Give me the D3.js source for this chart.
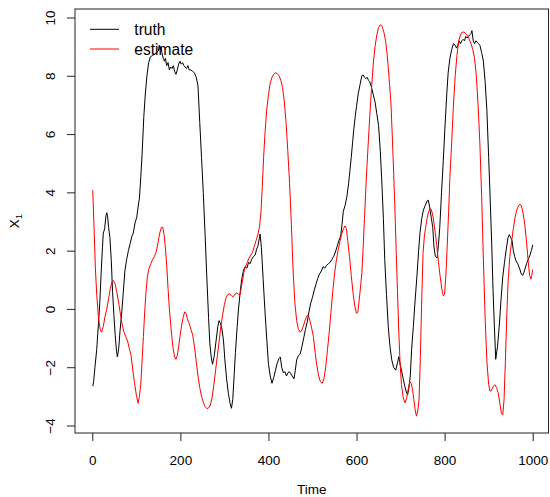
<!DOCTYPE html>
<html>
<head>
<meta charset="utf-8">
<script src="https://cdn.jsdelivr.net/npm/d3@7"></script>
<style>
  html, body { margin: 0; padding: 0; background: #fff; }
  svg { display: block; font-family: "Liberation Sans", Arial, sans-serif; }
</style>
</head>
<body>
<svg id="chart" width="550" height="497"></svg>
<script>
// Latent state X1 over time: the simulated truth and the filter's estimate.
const truthTime = [1,3,6,10,14,17,20,23,25,28,31,33,35,37,40,43,46,49,52,55,57,60,63,67,70,74,78,82,86,90,93,97,101,104,107,110,113,117,120,124,128,132,137,142,146,150,152,154,156,158,161,164,166,169,172,175,178,181,184,187,190,193,196,199,202,205,208,211,214,217,220,224,228,232,236,240,244,248,252,256,260,264,267,270,273,277,281,285,288,291,294,298,301,305,309,313,316,319,322,325,329,332,336,339,343,347,351,355,358,362,366,370,373,376,379,381,384,388,392,396,400,404,408,412,416,420,424,427,430,434,437,441,444,447,450,454,458,461,464,468,472,476,480,484,488,492,496,500,504,508,512,516,520,524,528,532,536,540,544,548,552,556,560,564,567,570,574,578,582,585,588,591,594,597,600,604,608,612,615,618,621,624,627,630,634,638,642,646,650,654,657,661,664,668,672,676,680,684,689,693,696,699,702,706,710,713,716,719,722,725,729,733,737,741,744,748,752,756,760,763,766,770,773,776,779,783,786,789,793,797,801,805,808,812,816,820,824,827,830,833,836,839,842,845,848,851,854,857,860,862,865,868,871,874,877,880,884,888,892,896,900,903,907,910,913,916,920,924,928,932,936,940,944,947,950,953,956,959,962,966,970,974,977,980,983,986,990,994,997,1000];
const truthValue = [-2.65,-2.5,-2.0,-1.4,-0.5,0.2,1.2,2.1,2.6,2.75,3.2,3.3,3.15,2.8,2.45,1.7,0.6,-0.2,-0.9,-1.45,-1.65,-1.35,-0.75,-0.1,0.5,1.3,1.7,2.0,2.25,2.5,2.6,2.95,3.15,3.5,3.8,4.5,5.3,6.6,7.3,8.0,8.45,8.65,8.7,8.75,8.8,8.85,9.05,8.9,9.0,8.8,8.6,8.5,8.6,8.35,8.45,8.2,8.3,8.25,8.35,8.15,8.05,8.2,8.4,8.5,8.4,8.45,8.35,8.3,8.25,8.35,8.2,8.2,8.15,8.1,7.95,7.65,6.4,5.2,4.0,2.6,1.1,-0.3,-1.2,-1.65,-1.9,-1.6,-1.1,-0.6,-0.4,-0.5,-0.65,-1.1,-1.75,-2.4,-2.9,-3.25,-3.41,-3.1,-2.3,-1.5,-0.6,0.0,0.6,1.0,1.3,1.45,1.4,1.6,1.55,1.7,1.8,1.85,2.05,2.15,2.4,2.57,2.1,1.0,-0.05,-1.0,-1.9,-2.3,-2.55,-2.35,-2.1,-1.85,-1.7,-1.65,-2.0,-2.2,-2.15,-2.3,-2.2,-2.15,-2.2,-2.3,-2.4,-2.1,-1.75,-1.6,-1.55,-1.3,-1.0,-0.7,-0.45,-0.1,0.2,0.4,0.65,0.85,1.05,1.2,1.3,1.45,1.4,1.5,1.55,1.6,1.7,1.8,1.95,2.15,2.35,2.5,2.9,3.35,3.55,3.85,4.3,4.75,5.2,5.7,6.2,6.6,6.95,7.4,7.7,8.0,8.03,7.95,7.9,7.95,7.85,7.8,7.6,7.35,7.1,6.7,6.3,5.4,4.5,3.1,1.7,0.5,-0.6,-1.3,-1.75,-2.0,-2.1,-1.85,-1.64,-1.9,-2.1,-2.4,-2.67,-2.85,-2.95,-2.7,-2.3,-1.4,-0.6,0.3,1.1,2.0,2.6,3.1,3.4,3.55,3.7,3.73,3.5,3.1,2.8,2.1,1.8,1.75,2.2,2.8,4.0,5.1,6.3,7.4,8.1,8.6,8.9,9.1,9.05,8.95,9.05,9.2,9.1,9.2,9.25,9.2,9.35,9.3,9.35,9.4,9.45,9.55,9.2,9.1,9.2,9.15,9.1,9.05,8.8,8.5,7.8,6.8,5.2,3.97,2.2,0.6,-0.6,-1.73,-1.3,-0.6,0.3,1.1,1.6,2.05,2.45,2.55,2.45,2.35,2.0,1.8,1.65,1.55,1.4,1.2,1.15,1.25,1.4,1.55,1.7,1.85,2.0,2.2];

const estTime = [1,4,7,10,14,18,21,25,29,33,37,41,45,48,52,56,60,64,68,72,76,80,84,88,92,96,100,104,107,110,113,116,119,122,125,128,133,137,141,145,149,153,157,160,163,166,169,172,175,179,183,187,190,193,196,199,202,206,210,213,216,220,224,228,232,236,240,244,248,252,256,260,264,268,272,276,280,284,288,292,296,300,304,308,312,316,320,324,328,332,335,338,341,344,348,352,356,360,364,368,372,376,380,383,386,389,392,396,400,404,408,412,416,420,424,428,432,436,440,444,448,452,456,460,464,468,472,476,480,484,488,491,494,498,502,506,510,514,518,522,526,530,534,538,542,546,550,554,558,562,566,570,574,577,580,584,588,592,596,600,603,606,609,612,615,618,621,624,627,630,634,638,642,646,650,654,658,662,666,669,672,675,678,681,684,687,690,693,696,699,702,706,710,714,718,721,724,727,730,733,736,739,742,745,748,751,754,757,760,764,767,770,774,778,782,786,790,794,797,800,803,806,809,812,816,820,824,828,832,836,840,844,848,852,856,860,864,868,872,876,880,884,888,892,896,900,903,906,910,914,918,922,926,929,932,935,938,941,944,948,952,956,960,964,968,971,974,978,982,986,990,993,996,998,1000];
const estValue = [4.08,2.8,1.4,0.5,-0.3,-0.7,-0.8,-0.6,-0.25,0.0,0.35,0.7,0.95,0.97,0.85,0.55,0.2,-0.2,-0.55,-0.8,-0.95,-1.1,-1.35,-1.6,-2.1,-2.55,-2.95,-3.24,-3.0,-2.6,-1.8,-0.95,-0.1,0.6,1.1,1.35,1.55,1.7,1.8,1.95,2.25,2.6,2.8,2.8,2.55,2.1,1.5,0.7,0.0,-0.7,-1.3,-1.65,-1.73,-1.6,-1.3,-0.95,-0.65,-0.3,-0.1,-0.15,-0.35,-0.5,-0.7,-0.9,-1.3,-1.8,-2.3,-2.7,-3.0,-3.2,-3.35,-3.42,-3.4,-3.3,-3.05,-2.6,-2.1,-1.6,-1.1,-0.6,-0.2,0.15,0.4,0.5,0.52,0.45,0.42,0.5,0.55,0.5,0.48,0.7,0.95,1.25,1.45,1.6,1.75,1.85,1.95,2.15,2.35,2.55,2.85,3.3,4.2,5.2,6.0,6.83,7.35,7.75,7.95,8.05,8.1,8.08,8.0,7.85,7.6,7.1,6.4,5.4,4.3,2.9,1.3,0.2,-0.4,-0.7,-0.8,-0.72,-0.55,-0.35,-0.22,-0.25,-0.4,-0.65,-0.95,-1.5,-1.95,-2.3,-2.5,-2.55,-2.4,-2.0,-1.4,-0.8,-0.1,0.6,1.2,1.65,2.0,2.3,2.55,2.75,2.85,2.75,2.35,1.8,1.15,0.55,0.1,-0.15,-0.1,0.3,0.75,1.2,2.1,3.1,4.1,5.0,5.8,6.6,7.55,8.4,9.0,9.4,9.65,9.75,9.7,9.5,9.2,8.8,8.3,7.7,7.1,6.0,4.8,3.5,2.0,0.6,-0.8,-1.9,-2.6,-3.05,-3.22,-3.05,-2.7,-2.5,-2.55,-2.75,-3.1,-3.45,-3.68,-3.5,-3.1,-1.6,0.3,1.9,2.5,2.8,3.1,3.35,3.45,3.4,3.15,2.7,2.2,1.6,1.1,0.65,0.45,0.5,1.2,2.2,3.3,4.5,5.7,7.0,8.0,8.7,9.2,9.4,9.5,9.5,9.45,9.38,9.25,9.1,8.9,8.6,8.0,7.0,5.7,3.9,1.7,-0.3,-1.8,-2.6,-2.82,-2.8,-2.67,-2.6,-2.7,-2.9,-3.3,-3.58,-3.64,-3.1,-1.8,-0.3,0.9,1.8,2.3,2.75,3.15,3.4,3.55,3.6,3.55,3.3,2.9,2.3,1.6,1.15,1.02,1.15,1.35];

const xTicks = [0, 200, 400, 600, 800, 1000];
const yTicks = [-4, -2, 0, 2, 4, 6, 8, 10];
const legendLabels = ["truth", "estimate"];
const seriesColors = ["#000000", "#ff0000"];

const svg = d3.select("#chart");
svg.append("rect").attr("width", 550).attr("height", 497).attr("fill", "#fff");

// Plot frame
const box = { left: 75, right: 548.5, top: 9, bottom: 433 };
const x = d3.scaleLinear().domain([0, 1000]).range([92.3, 532.7]);
const y = d3.scaleLinear().domain([-4, 10]).range([425.5, 17.5]);

const line = d3.line().x(d => x(d[0])).y(d => y(d[1]));
const truth = truthTime.map((t, i) => [t, truthValue[i]]);
const est = estTime.map((t, i) => [t, estValue[i]]);

svg.append("path").datum(truth)
  .attr("d", line).attr("fill", "none")
  .attr("stroke", seriesColors[0]).attr("stroke-width", 1)
  .attr("stroke-linejoin", "round");
svg.append("path").datum(est)
  .attr("d", line).attr("fill", "none")
  .attr("stroke", seriesColors[1]).attr("stroke-width", 1)
  .attr("stroke-linejoin", "round");

svg.append("rect")
  .attr("x", box.left).attr("y", box.top)
  .attr("width", box.right - box.left).attr("height", box.bottom - box.top)
  .attr("fill", "none").attr("stroke", "#222").attr("stroke-width", 1);

// Axes
const xAxis = svg.append("g")
  .attr("transform", `translate(0,${box.bottom})`)
  .call(d3.axisBottom(x).tickValues(xTicks).tickSize(8).tickFormat(d3.format("d")));
xAxis.select(".domain").remove();
xAxis.selectAll("line").attr("stroke", "#222");
xAxis.selectAll("text")
  .attr("y", 32).attr("dy", 0)
  .attr("fill", "#000")
  .style("font-size", "13.5px")
  .style("font-family", "Liberation Sans, Arial, sans-serif");

const yAxis = svg.append("g")
  .attr("transform", `translate(${box.left},0)`)
  .call(d3.axisLeft(y).tickValues(yTicks).tickSize(8).tickFormat(d3.format("d")));
yAxis.select(".domain").remove();
yAxis.selectAll("line").attr("stroke", "#222");
yAxis.selectAll("text")
  .attr("x", null).attr("dy", 0)
  .attr("text-anchor", "middle")
  .attr("transform", "translate(-20,0) rotate(-90)")
  .attr("fill", "#000")
  .style("font-size", "13.5px")
  .style("font-family", "Liberation Sans, Arial, sans-serif");

// Axis titles
svg.append("text")
  .attr("x", (box.left + box.right) / 2).attr("y", 494)
  .attr("text-anchor", "middle")
  .style("font-size", "13.5px")
  .text("Time");

const yTitle = svg.append("text")
  .attr("transform", `translate(18.5,${(box.top + box.bottom) / 2}) rotate(-90)`)
  .attr("text-anchor", "middle")
  .style("font-size", "13.5px");
yTitle.append("tspan").text("X");
yTitle.append("tspan").attr("dy", 3).style("font-size", "9.5px").text("1");

// Legend
const legend = svg.append("g");
legendLabels.forEach((label, i) => {
  const ly = 29.3 + i * 19.7;
  legend.append("line")
    .attr("x1", 90).attr("x2", 119).attr("y1", ly).attr("y2", ly)
    .attr("stroke", seriesColors[i]).attr("stroke-width", 1);
  legend.append("text")
    .attr("x", 134.3).attr("y", ly + 5.6)
    .style("font-size", "15.6px")
    .text(label);
});
</script>
</body>
</html>
